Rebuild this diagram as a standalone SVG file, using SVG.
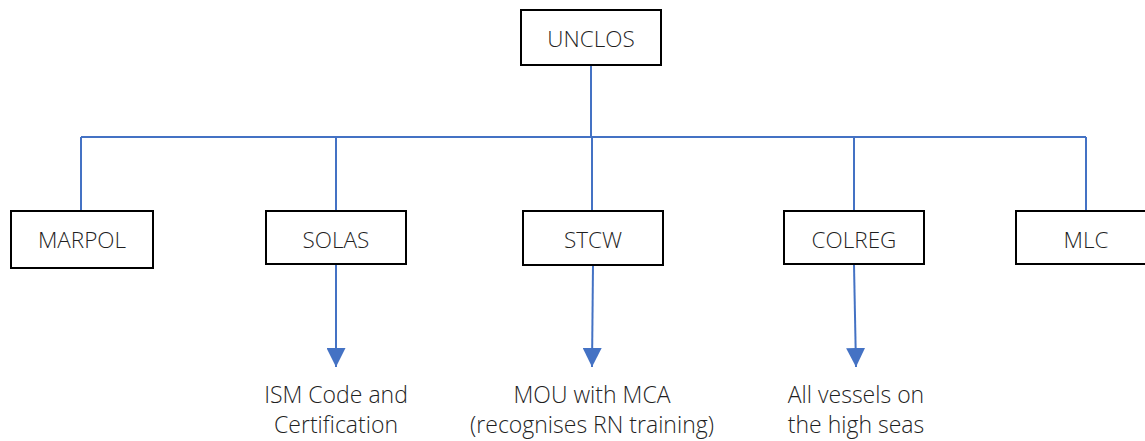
<svg xmlns="http://www.w3.org/2000/svg" width="1145" height="441" viewBox="0 0 1145 441">
<style>
.box{fill:#fff;stroke:#000;stroke-width:2}
.lbl{font-family:"Open Sans","Noto Sans",sans-serif;font-weight:300;font-size:22.5px;fill:#1f1f1f;text-anchor:middle}
.big{font-size:23px}
.ln{stroke:#4472C4;stroke-width:2;fill:none}
</style>
<defs>
<marker id="arrow" viewBox="0 0 20 20" refX="20" refY="10" markerWidth="19" markerHeight="19" markerUnits="userSpaceOnUse" orient="auto">
<path d="M0,0 L20,10 L0,20 Z" fill="#4472C4"/>
</marker>
</defs>
<g id="connectors">
<path class="ln" d="M591,65 V137"/>
<path class="ln" d="M81,137 H1086"/>
<path class="ln" d="M81,137 V211"/>
<path class="ln" d="M336,137 V211"/>
<path class="ln" d="M592,137 V211"/>
<path class="ln" d="M854,137 V211"/>
<path class="ln" d="M1086,137 V211"/>
<path class="ln" d="M336,264 V367" marker-end="url(#arrow)"/>
<path class="ln" d="M593,265 L592,367" marker-end="url(#arrow)"/>
<path class="ln" d="M854,265 L856,367" marker-end="url(#arrow)"/>
</g>
<g id="unclos"><rect class="box" x="521" y="10" width="140" height="55"/><text class="lbl" x="591" y="47">UNCLOS</text></g>
<g id="marpol"><rect class="box" x="11" y="211" width="142" height="57"/><text class="lbl" x="82" y="248">MARPOL</text></g>
<g id="solas"><rect class="box" x="266" y="211" width="140" height="53"/><text class="lbl" x="336" y="248">SOLAS</text></g>
<g id="stcw"><rect class="box" x="523" y="211" width="140" height="54"/><text class="lbl" x="593" y="248">STCW</text></g>
<g id="colreg"><rect class="box" x="784" y="211" width="140" height="53"/><text class="lbl" x="854" y="248">COLREG</text></g>
<g id="mlc"><rect class="box" x="1016" y="211" width="140" height="53"/><text class="lbl" x="1086" y="248">MLC</text></g>
<g id="ism"><text class="lbl big" x="336" y="403">ISM Code and</text><text class="lbl big" x="336" y="433">Certification</text></g>
<g id="mou"><text class="lbl big" x="592" y="403">MOU with MCA</text><text class="lbl big" x="592" y="433">(recognises RN training)</text></g>
<g id="vessels"><text class="lbl big" x="856" y="403">All vessels on</text><text class="lbl big" x="856" y="433">the high seas</text></g>
</svg>
